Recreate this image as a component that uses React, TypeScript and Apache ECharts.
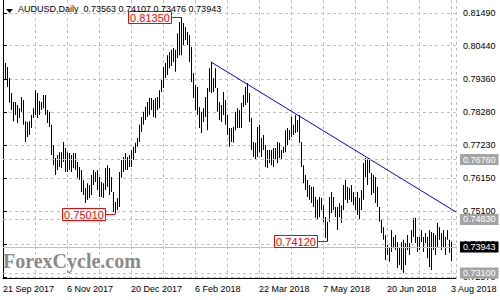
import React, { useEffect, useRef } from 'react';
import * as echarts from 'echarts';

const dateLabels = ['21 Sep 2017', '6 Nov 2017', '20 Dec 2017', '6 Feb 2018', '22 Mar 2018', '7 May 2018', '20 Jun 2018', '3 Aug 2018'];
const yTicks = [0.8149, 0.8044, 0.7936, 0.7828, 0.7723, 0.7615, 0.751, 0.7402, 0.7297];

const highs = [
  0.8039, 0.7988, 0.7975, 0.7939, 0.7891, 0.7862, 0.7862, 0.7852, 0.7842, 0.7878,
  0.7868, 0.7800, 0.7797, 0.7800, 0.7820, 0.7842, 0.7900, 0.7891, 0.7865, 0.7862,
  0.7884, 0.7884, 0.7836, 0.7830, 0.7788, 0.7723, 0.7681, 0.7691, 0.7700, 0.7700,
  0.7733, 0.7713, 0.7700, 0.7697, 0.7691, 0.7697, 0.7697, 0.7668, 0.7652, 0.7642,
  0.7610, 0.7584, 0.7600, 0.7594, 0.7626, 0.7642, 0.7636, 0.7642, 0.7620, 0.7604,
  0.7600, 0.7649, 0.7658, 0.7649, 0.7620, 0.7571, 0.7539, 0.7552, 0.7636, 0.7675,
  0.7684, 0.7697, 0.7684, 0.7691, 0.7707, 0.7717, 0.7730, 0.7746, 0.7788, 0.7813,
  0.7830, 0.7846, 0.7862, 0.7875, 0.7875, 0.7868, 0.7875, 0.7878, 0.7900, 0.7933,
  0.7975, 0.7988, 0.8013, 0.8023, 0.8030, 0.8036, 0.8030, 0.8084, 0.8120, 0.8135,
  0.8117, 0.8104, 0.8088, 0.8078, 0.8039, 0.7955, 0.7917, 0.7910, 0.7846, 0.7830,
  0.7842, 0.7878, 0.7907, 0.7971, 0.7991, 0.7939, 0.7971, 0.7907, 0.7862, 0.7852,
  0.7894, 0.7868, 0.7820, 0.7778, 0.7778, 0.7781, 0.7830, 0.7842, 0.7836, 0.7859,
  0.7884, 0.7910, 0.7923, 0.7891, 0.7810, 0.7733, 0.7730, 0.7781, 0.7788, 0.7746,
  0.7755, 0.7723, 0.7707, 0.7707, 0.7707, 0.7713, 0.7713, 0.7733, 0.7730, 0.7707,
  0.7717, 0.7771, 0.7778, 0.7771, 0.7813, 0.7788, 0.7820, 0.7804, 0.7820, 0.7733,
  0.7658, 0.7626, 0.7610, 0.7594, 0.7588, 0.7588, 0.7555, 0.7546, 0.7555, 0.7552,
  0.7529, 0.7491, 0.7475, 0.7555, 0.7571, 0.7555, 0.7523, 0.7523, 0.7536, 0.7529,
  0.7594, 0.7610, 0.7588, 0.7584, 0.7594, 0.7571, 0.7555, 0.7571, 0.7552, 0.7578,
  0.7665, 0.7681, 0.7676, 0.7681, 0.7633, 0.7626, 0.7620, 0.7588, 0.7523, 0.7481,
  0.7458, 0.7433, 0.7400, 0.7394, 0.7449, 0.7426, 0.7433, 0.7410, 0.7394, 0.7410,
  0.7417, 0.7407, 0.7433, 0.7407, 0.7449, 0.7488, 0.7488, 0.7426, 0.7426, 0.7449,
  0.7426, 0.7439, 0.7426, 0.7449, 0.7442, 0.7439, 0.7433, 0.7471, 0.7458, 0.7439,
  0.7449, 0.7426, 0.7449, 0.7417, 0.74107,
];

const lows = [
  0.7917, 0.7933, 0.7910, 0.7859, 0.7836, 0.7800, 0.7820, 0.7794, 0.7810, 0.7830,
  0.7788, 0.7733, 0.7749, 0.7755, 0.7778, 0.7810, 0.7820, 0.7810, 0.7820, 0.7836,
  0.7842, 0.7820, 0.7794, 0.7781, 0.7691, 0.7658, 0.7626, 0.7642, 0.7652, 0.7649,
  0.7668, 0.7636, 0.7636, 0.7642, 0.7636, 0.7649, 0.7642, 0.7617, 0.7610, 0.7571,
  0.7562, 0.7536, 0.7546, 0.7552, 0.7562, 0.7594, 0.7604, 0.7578, 0.7555, 0.7555,
  0.7552, 0.7578, 0.7588, 0.7562, 0.7571, 0.7507, 0.7501, 0.7513, 0.7523, 0.7617,
  0.7636, 0.7642, 0.7642, 0.7652, 0.7652, 0.7675, 0.7697, 0.7717, 0.7733, 0.7765,
  0.7788, 0.7804, 0.7813, 0.7820, 0.7836, 0.7813, 0.7810, 0.7836, 0.7842, 0.7894,
  0.7907, 0.7939, 0.7949, 0.7971, 0.7978, 0.7991, 0.7959, 0.8004, 0.8013, 0.8013,
  0.8046, 0.8062, 0.8046, 0.7991, 0.7926, 0.7875, 0.7836, 0.7820, 0.7778, 0.7762,
  0.7797, 0.7813, 0.7771, 0.7894, 0.7891, 0.7894, 0.7907, 0.7830, 0.7804, 0.7797,
  0.7820, 0.7788, 0.7755, 0.7717, 0.7733, 0.7730, 0.7771, 0.7778, 0.7778, 0.7778,
  0.7846, 0.7852, 0.7859, 0.7797, 0.7707, 0.7684, 0.7675, 0.7684, 0.7700, 0.7684,
  0.7707, 0.7652, 0.7649, 0.7665, 0.7658, 0.7652, 0.7675, 0.7665, 0.7681, 0.7675,
  0.7697, 0.7700, 0.7723, 0.7739, 0.7749, 0.7755, 0.7762, 0.7765, 0.7730, 0.7652,
  0.7600, 0.7578, 0.7555, 0.7546, 0.7536, 0.7523, 0.7488, 0.7481, 0.7491, 0.7513,
  0.7475, 0.7423, 0.7412, 0.7475, 0.7504, 0.7513, 0.7491, 0.7449, 0.7491, 0.7471,
  0.7513, 0.7546, 0.7536, 0.7546, 0.7539, 0.7529, 0.7513, 0.7497, 0.7481, 0.7513,
  0.7546, 0.7620, 0.7594, 0.7633, 0.7562, 0.7568, 0.7536, 0.7523, 0.7475, 0.7439,
  0.7417, 0.7352, 0.7368, 0.7346, 0.7378, 0.7394, 0.7384, 0.7326, 0.7336, 0.7320,
  0.7310, 0.7336, 0.7384, 0.7368, 0.7407, 0.7426, 0.7407, 0.7378, 0.7384, 0.7410,
  0.7378, 0.7407, 0.7358, 0.7329, 0.7320, 0.7384, 0.7368, 0.7394, 0.7417, 0.7384,
  0.7394, 0.7368, 0.7417, 0.7375, 0.73476,
];

const lastBar = [0.73563, 0.74107, 0.73476, 0.73943]; // open, high, low, close
const levelLines = [0.7676, 0.7483, 0.731];
const bidPrice = 0.73943;
const extremes = [
  [89, 0.8135],
  [56, 0.7501],
  [162, 0.7412],
];
const trendLine = [
  [104, 0.7991],
  [226.5, 0.7507],
];

const FONT = '"Liberation Sans", Arial, sans-serif';
const Y_MIN = 0.72939;
const Y_MAX = 0.81909;

export default function App() {
  const ref = useRef<HTMLDivElement>(null);
  useEffect(() => {
    const chart = echarts.init(ref.current!, null, { renderer: 'svg' });
    const bars = highs.map((h, i) => [i, h, lows[i]]);
    const labelBase = {
      show: true,
      position: 'end',
      distance: 4,
      color: '#fff',
      fontSize: 9,
      fontFamily: FONT,
      padding: [1, 3, 1, 3],
      lineHeight: 9,
    };
    chart.setOption({
      animation: false,
      backgroundColor: '#fff',
      title: {
        text: `AUDUSD,Daily  ${lastBar.map((v) => v.toFixed(5)).join(' ')}`,
        left: 18,
        top: 4,
        padding: 0,
        textStyle: { fontSize: 9, fontWeight: 'normal', color: '#000', fontFamily: FONT },
      },
      grid: { left: 3, right: 44, top: 0, bottom: 22 },
      xAxis: {
        type: 'value',
        min: 0,
        max: 226.5,
        interval: 16,
        axisLine: { show: true, lineStyle: { color: '#000', width: 1 } },
        axisTick: { show: false },
        axisLabel: {
          formatter: (v: number) => (v % 32 === 0 && dateLabels[v / 32]) ? dateLabels[v / 32] : '',
          align: 'left',
          color: '#000',
          fontSize: 9,
          fontFamily: FONT,
          margin: 6,
        },
        splitLine: { show: true, lineStyle: { color: '#c0c0c0', type: [3, 3], width: 1 } },
      },
      yAxis: [
        {
          type: 'value',
          position: 'right',
          min: Y_MIN,
          max: Y_MAX,
          axisLine: { show: true, lineStyle: { color: '#000', width: 1 } },
          axisTick: { show: true, customValues: yTicks, length: 4, lineStyle: { color: '#000' } },
          axisLabel: {
            customValues: yTicks,
            formatter: (v: number) => v.toFixed(5),
            color: '#000',
            fontSize: 9,
            fontFamily: FONT,
            margin: 7,
          },
          splitLine: { show: true, lineStyle: { color: '#c0c0c0', type: [3, 3], width: 1 } },
        },
        {
          type: 'value',
          position: 'left',
          min: Y_MIN,
          max: Y_MAX,
          axisLine: { show: true, lineStyle: { color: '#000', width: 1 } },
          axisTick: { show: false },
          axisLabel: { show: false },
          splitLine: { show: false },
        },
      ],
      graphic: [
        { type: 'polygon', shape: { points: [[6, 9], [13, 9], [9.5, 13]] }, style: { fill: '#000' } },
        {
          type: 'text',
          x: 3,
          y: 251,
          z: 10,
          style: { text: 'ForexCycle.com', font: 'bold 20px "Liberation Serif", "Times New Roman", serif', fill: '#8a8a8a' },
        },
      ],
      series: [
        {
          type: 'custom',
          data: bars,
          encode: { x: 0, y: [1, 2] },
          silent: true,
          z: 3,
          renderItem: (params: any, api: any) => {
            const top = api.coord([api.value(0), api.value(1)]);
            const bot = api.coord([api.value(0), api.value(2)]);
            return {
              type: 'rect',
              shape: { x: Math.round(top[0]), y: top[1], width: 1, height: Math.max(1, bot[1] - top[1]) },
              style: { fill: '#000' },
            };
          },
        },
        {
          type: 'line',
          data: trendLine,
          symbol: 'none',
          silent: true,
          z: 4,
          lineStyle: { color: '#0000ff', width: 1 },
          markLine: {
            silent: true,
            symbol: 'none',
            animation: false,
            precision: 5,
            data: [
              ...levelLines.map((v) => ({
                yAxis: v,
                lineStyle: { type: [3, 3], color: '#c0c0c0', width: 1 },
                label: { ...labelBase, backgroundColor: '#a4a4a4', formatter: v.toFixed(5) },
              })),
              {
                yAxis: bidPrice,
                lineStyle: { type: 'solid', color: '#c0c0c0', width: 1 },
                label: { ...labelBase, backgroundColor: '#000', formatter: bidPrice.toFixed(5) },
              },
            ],
          },
        },
        {
          type: 'custom',
          data: extremes,
          encode: { x: 0, y: 1 },
          silent: true,
          z: 6,
          renderItem: (params: any, api: any) => {
            const p = api.coord([api.value(0), api.value(1)]);
            const x = Math.round(p[0]);
            const y = Math.round(p[1]) + 0.5;
            const txt = Number(api.value(1)).toFixed(5);
            return {
              type: 'group',
              children: [
                { type: 'line', shape: { x1: x - 10, y1: y, x2: x, y2: y }, style: { stroke: '#ff0000', lineWidth: 1 } },
                { type: 'rect', shape: { x: x - 52.5, y: y - 6, width: 43, height: 12 }, style: { fill: '#fff', stroke: '#ff0000', lineWidth: 1 } },
                {
                  type: 'text',
                  style: { text: txt, x: x - 31, y: y + 0.5, fill: '#ff0000', font: `11px ${FONT}`, align: 'center', verticalAlign: 'middle' },
                },
              ],
            };
          },
        },
      ],
    });
    return () => chart.dispose();
  }, []);
  return <div ref={ref} style={{ position: 'absolute', left: 0, top: 0, width: 500, height: 300 }} />;
}
